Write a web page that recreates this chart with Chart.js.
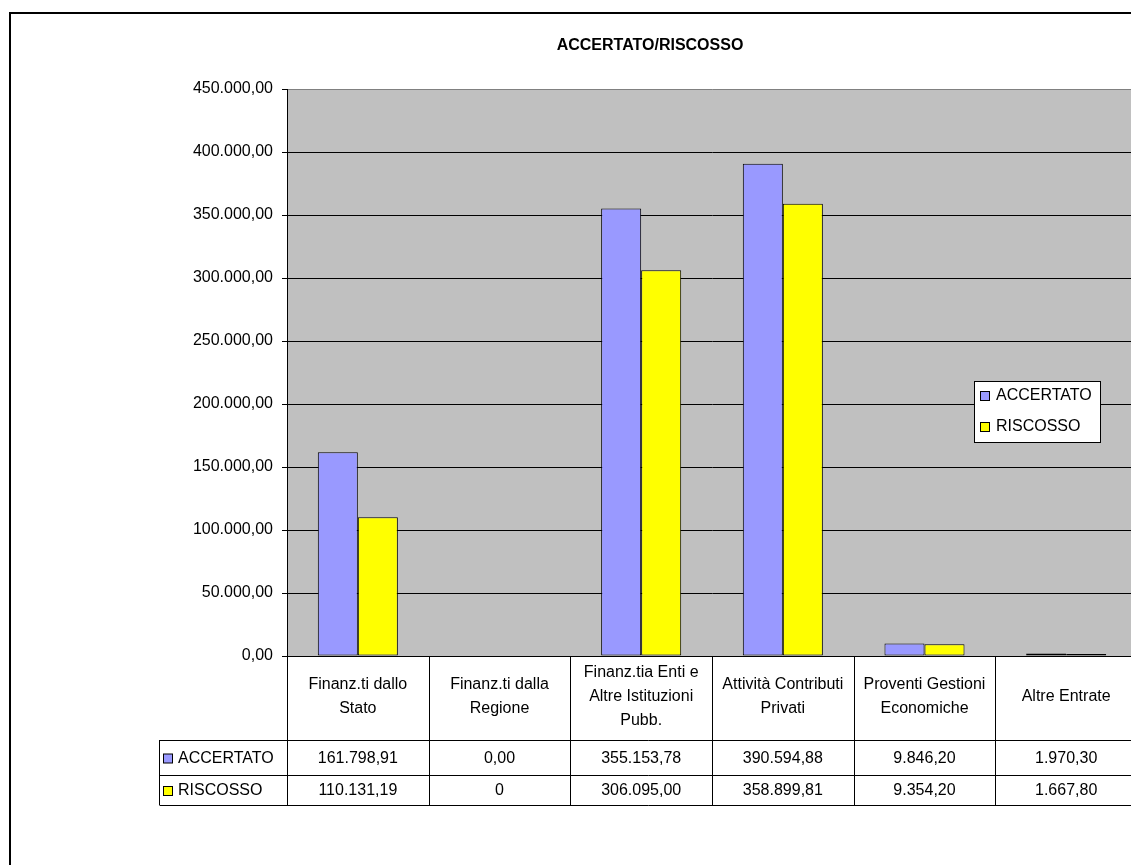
<!DOCTYPE html>
<html>
<head>
<meta charset="utf-8">
<script src="https://cdn.jsdelivr.net/npm/chart.js@4/dist/chart.umd.min.js"></script>
<style>
  html, body { margin: 0; padding: 0; background: #fff; overflow: hidden; }
  #wrap { position: relative; width: 1131px; height: 865px; overflow: hidden; }
  #frame { position: absolute; left: 9px; top: 12px; width: 1200px; height: 900px; border: 2px solid #000; }
  #c { position: absolute; left: 0; top: 0; }
</style>
</head>
<body>
<div id="wrap">
  <div id="frame"></div>
  <canvas id="c" width="1140" height="865"></canvas>
</div>
<script>
const TITLE = 'ACCERTATO/RISCOSSO';
const categories = [
  ['Finanz.ti dallo', 'Stato'],
  ['Finanz.ti dalla', 'Regione'],
  ['Finanz.tia Enti e', 'Altre Istituzioni', 'Pubb.'],
  ['Attività Contributi', 'Privati'],
  ['Proventi Gestioni', 'Economiche'],
  ['Altre Entrate']
];
const accertato = [161798.91, 0.00, 355153.78, 390594.88, 9846.20, 1970.30];
const riscosso = [110131.19, 0, 306095.00, 358899.81, 9354.20, 1667.80];
// the table shows this RISCOSSO cell as a plain integer
const riscossoIntCells = [1];
const yTicks = { min: 0, max: 450000, step: 50000 };

const FONT = 'Liberation Sans, Arial, sans-serif';
const COL_ACC = '#9999FF';
const COL_RIS = '#FFFF00';

function fmt(v, dec) {
  const parts = v.toFixed(dec).split('.');
  const int = parts[0].replace(/\B(?=(\d{3})+(?!\d))/g, '.');
  return dec > 0 ? int + ',' + parts[1] : int;
}

const plotBg = {
  id: 'plotBg',
  beforeDraw(chart) {
    const a = chart.chartArea, ctx = chart.ctx;
    ctx.save();
    ctx.fillStyle = '#C0C0C0';
    ctx.fillRect(a.left, a.top, a.right - a.left, a.bottom - a.top);
    ctx.restore();
  }
};

const extras = {
  id: 'extras',
  afterDraw(chart) {
    const ctx = chart.ctx, a = chart.chartArea, x = chart.scales.x;
    ctx.save();
    // title
    ctx.fillStyle = '#000';
    ctx.font = 'bold 16px ' + FONT;
    ctx.textAlign = 'center';
    ctx.textBaseline = 'middle';
    ctx.fillText(TITLE, 650, 46);

    // legend box inside plot
    const lx = 974, ly = 381, lw = 126, lh = 61;
    ctx.fillStyle = '#fff';
    ctx.fillRect(lx, ly, lw, lh);
    ctx.strokeStyle = '#000';
    ctx.lineWidth = 1;
    ctx.strokeRect(lx + 0.5, ly + 0.5, lw, lh);
    ctx.font = '16px ' + FONT;
    ctx.textAlign = 'left';
    chart.data.datasets.forEach((ds, i) => {
      const cy = ly + 15 + i * 31;
      ctx.fillStyle = ds.backgroundColor;
      ctx.fillRect(lx + 6.5, cy - 4.5, 9, 9);
      ctx.strokeRect(lx + 6.5, cy - 4.5, 9, 9);
      ctx.fillStyle = '#000';
      ctx.fillText(ds.label, lx + 22, cy);
    });

    // data table
    const n = categories.length;
    const cw = (x.right - x.left) / n;
    const top = a.bottom, hdrBot = top + 84, r1 = hdrBot + 35, r2 = r1 + 30;
    const keyLeft = 159.5;
    ctx.strokeStyle = '#000';
    ctx.beginPath();
    for (let i = 0; i <= n; i++) {
      const bx = Math.round(x.left + i * cw) + 0.5;
      ctx.moveTo(bx, top);
      ctx.lineTo(bx, r2);
    }
    ctx.moveTo(keyLeft, hdrBot); ctx.lineTo(keyLeft, r2);
    [hdrBot, r1, r2].forEach(yy => {
      ctx.moveTo(keyLeft, yy + 0.5);
      ctx.lineTo(x.right, yy + 0.5);
    });
    ctx.stroke();

    ctx.fillStyle = '#000';
    ctx.font = '16px ' + FONT;
    ctx.textAlign = 'center';
    const lineH = 24, hdrMid = top + 41;
    categories.forEach((lines, i) => {
      const cx = x.getPixelForValue(i);
      lines.forEach((t, k) => {
        ctx.fillText(t, cx, hdrMid + (k - (lines.length - 1) / 2) * lineH);
      });
      ctx.fillText(fmt(accertato[i], 2), cx, (hdrBot + r1) / 2 + 1);
      ctx.fillText(fmt(riscosso[i], riscossoIntCells.includes(i) ? 0 : 2), cx, (r1 + r2) / 2 + 1);
    });

    // row keys
    ctx.textAlign = 'left';
    chart.data.datasets.forEach((ds, i) => {
      const cy = i === 0 ? (hdrBot + r1) / 2 + 1 : (r1 + r2) / 2 + 1;
      ctx.fillStyle = ds.backgroundColor;
      ctx.fillRect(163.5, cy - 4.5, 9, 9);
      ctx.strokeRect(163.5, cy - 4.5, 9, 9);
      ctx.fillStyle = '#000';
      ctx.fillText(ds.label, 178, cy);
    });
    ctx.restore();
  }
};

new Chart(document.getElementById('c'), {
  type: 'bar',
  data: {
    labels: categories,
    datasets: [
      { label: 'ACCERTATO', data: accertato, backgroundColor: COL_ACC, borderColor: '#000', borderWidth: 1, borderSkipped: false },
      { label: 'RISCOSSO', data: riscosso, backgroundColor: COL_RIS, borderColor: '#000', borderWidth: 1, borderSkipped: false }
    ]
  },
  options: {
    responsive: false,
    animation: false,
    devicePixelRatio: 1,
    layout: { padding: { top: 89, right: 3, bottom: 60, left: 0 } },
    datasets: { bar: { categoryPercentage: 0.565, barPercentage: 1 } },
    plugins: { legend: { display: false }, title: { display: false }, tooltip: { enabled: false } },
    scales: {
      x: {
        ticks: { display: false },
        grid: { display: false },
        border: { display: true, color: '#000', width: 1 },
        afterFit(s) { s.height = 149; }
      },
      y: {
        min: yTicks.min,
        max: yTicks.max,
        ticks: {
          stepSize: yTicks.step,
          color: '#000',
          font: { family: FONT, size: 16 },
          padding: 9,
          callback: v => fmt(v, 2)
        },
        grid: {
          color: c => c.tick && c.tick.value === yTicks.max ? '#808080' : '#000',
          tickColor: '#000',
          tickLength: 5,
          lineWidth: 1
        },
        border: { display: true, color: '#000', width: 1 },
        afterFit(s) { s.width = 287; }
      }
    }
  },
  plugins: [plotBg, extras]
});
</script>
</body>
</html>
